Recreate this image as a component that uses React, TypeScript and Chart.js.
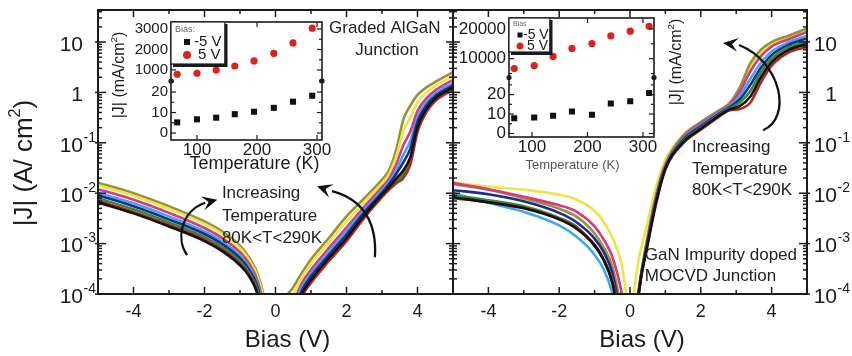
import React, { useEffect, useRef } from 'react';
import { Chart, registerables } from 'chart.js';

Chart.register(...registerables);

const FONT = '"Liberation Sans", Arial, Helvetica, sans-serif';
const INK = '#1b1b1b';
const font = (s: number) => `${s}px ${FONT}`;

// ---------------- main panels ----------------
// bias grids (V)
const biasLeft = [-5, -4, -3, -2, -1.5, -1, -0.75, -0.5, -0.25, 0, 0.25, 0.5, 0.75, 1, 1.5, 2, 2.5, 3, 3.2, 3.4, 3.6, 3.8, 4, 4.25, 4.5, 5];
const biasRight = [-5, -4, -3, -2, -1.5, -1, -0.75, -0.5, -0.25, 0, 0.25, 0.5, 0.75, 1, 1.5, 2, 2.5, 2.8, 3.1, 3.4, 3.7, 4, 4.5, 5];

// log10 |J| (A/cm^2) — graded AlGaN junction (left panel)
const leftBlackLog = [-2.18, -2.40, -2.66, -2.95, -3.15, -3.43, -3.64, -4.02, -5.0, -6.5, -5.1, -4.51, -3.99, -3.72, -3.29, -2.89, -2.44, -2.03, -1.88, -1.71, -1.55, -1.28, -0.69, -0.33, -0.12, 0.10];
const leftRedLog = [-2.15, -2.37, -2.63, -2.92, -3.12, -3.40, -3.61, -3.99, -4.94, -6.42, -5.3, -4.6, -4.05, -3.78, -3.35, -2.95, -2.49, -2.08, -1.93, -1.80, -1.70, -1.43, -0.78, -0.39, -0.17, 0.05];
const leftGreenLog = [-2.10, -2.32, -2.58, -2.87, -3.07, -3.35, -3.57, -3.94, -4.86, -6.3, -5.2, -4.56, -4.02, -3.75, -3.32, -2.92, -2.47, -2.06, -1.91, -1.76, -1.63, -1.36, -0.74, -0.36, -0.15, 0.07];
const leftNavyLog = [-2.04, -2.26, -2.52, -2.81, -3.01, -3.29, -3.51, -3.87, -4.75, -6.14, -5.0, -4.40, -3.92, -3.65, -3.23, -2.82, -2.38, -1.99, -1.82, -1.62, -1.39, -1.11, -0.58, -0.26, -0.07, 0.14];
const leftLightBlueLog = [-1.99, -2.20, -2.46, -2.76, -2.96, -3.24, -3.46, -3.82, -4.66, -6.01, -4.9, -4.31, -3.86, -3.59, -3.17, -2.75, -2.33, -1.94, -1.77, -1.54, -1.24, -0.96, -0.49, -0.19, -0.02, 0.19];
const leftMagentaLog = [-1.92, -2.13, -2.39, -2.69, -2.89, -3.17, -3.39, -3.75, -4.53, -5.83, -4.7, -4.19, -3.78, -3.52, -3.09, -2.68, -2.27, -1.88, -1.71, -1.43, -1.05, -0.77, -0.37, -0.12, 0.04, 0.25];
const leftYellowLog = [-1.84, -2.05, -2.31, -2.61, -2.81, -3.09, -3.32, -3.66, -4.39, -5.63, -4.45, -4.02, -3.67, -3.40, -2.98, -2.56, -2.18, -1.80, -1.62, -1.27, -0.77, -0.49, -0.20, 0.00, 0.13, 0.33];
const leftOliveLog = [-1.79, -2.00, -2.26, -2.56, -2.76, -3.04, -3.27, -3.61, -4.3, -5.5, -4.2, -3.87, -3.57, -3.31, -2.89, -2.46, -2.10, -1.73, -1.54, -1.14, -0.54, -0.26, -0.05, 0.10, 0.21, 0.40];

// log10 |J| (A/cm^2) — GaN impurity doped MOCVD junction (right panel)
const rightBlackLog = [-2.08, -2.18, -2.30, -2.52, -2.71, -3.04, -3.32, -3.78, -4.7, -6.0, -3.97, -3.00, -2.14, -1.51, -0.99, -0.72, -0.47, -0.34, -0.27, -0.08, 0.30, 0.60, 0.85, 0.96];
const rightRedLog = [-2.10, -2.18, -2.29, -2.51, -2.69, -3.02, -3.30, -3.75, -4.6, -6.0, -3.98, -3.02, -2.17, -1.53, -1.01, -0.74, -0.49, -0.36, -0.33, -0.20, 0.20, 0.53, 0.80, 0.90];
const rightGreenLog = [-2.04, -2.14, -2.26, -2.49, -2.67, -3.04, -3.30, -3.72, -4.6, -6.0, -3.96, -2.97, -2.12, -1.50, -0.97, -0.70, -0.45, -0.32, -0.20, 0.03, 0.40, 0.67, 0.90, 1.01];
const rightNavyLog = [-1.94, -2.02, -2.16, -2.39, -2.58, -2.90, -3.16, -3.58, -4.5, -5.8, -3.94, -2.94, -2.09, -1.48, -0.94, -0.67, -0.43, -0.30, -0.14, 0.15, 0.49, 0.74, 0.95, 1.07];
const rightLightBlueLog = [-2.00, -2.19, -2.37, -2.64, -2.87, -3.22, -3.50, -3.97, -4.8, -6.0, -3.93, -2.92, -2.07, -1.46, -0.92, -0.65, -0.41, -0.28, -0.07, 0.27, 0.59, 0.81, 1.00, 1.12];
const rightMagentaLog = [-1.80, -1.92, -2.07, -2.24, -2.37, -2.66, -2.91, -3.26, -3.93, -5.0, -3.92, -2.88, -2.03, -1.44, -0.89, -0.62, -0.39, -0.25, 0.01, 0.42, 0.72, 0.91, 1.06, 1.20];
const rightYellowLog = [-1.79, -1.87, -1.93, -2.03, -2.13, -2.35, -2.56, -2.88, -3.37, -4.3, -3.3, -2.57, -1.84, -1.33, -0.85, -0.60, -0.37, -0.22, 0.05, 0.50, 0.78, 0.95, 1.09, 1.24];
const rightOliveLog = [-1.82, -1.93, -2.10, -2.31, -2.47, -2.80, -3.07, -3.45, -4.3, -5.5, -3.9, -2.85, -2.0, -1.42, -0.86, -0.59, -0.36, -0.22, 0.10, 0.58, 0.85, 1.00, 1.13, 1.27];

// axis ticks
const biasTicks = [-4, -2, 0, 2, 4];
const biasMinorTicks = [-3, -1, 1, 3];
const jDecades = [-4, -3, -2, -1, 0, 1];
const jMin = 1e-4;
const jMax = 43.2;

const curveColors = {
  black: '#121212',
  red: '#b5261f',
  green: '#2f8d3b',
  navy: '#1d2b8c',
  lightBlue: '#3fa7ee',
  magenta: '#d8397f',
  yellow: '#ece545',
  olive: '#97923a',
};

// ---------------- insets ----------------
const leftInsetTemps = [67, 100, 132, 163, 195, 228, 260, 292];
const leftInsetNeg5V = [5.2, 6.7, 7.5, 9.2, 10.4, 12.3, 15.3, 18.2]; // mA/cm^2
const leftInsetPos5V = [790, 840, 1000, 1195, 1440, 1810, 2320, 3040]; // mA/cm^2
const rightInsetTemps = [68, 104, 138, 172, 208, 242, 277, 311];
const rightInsetNeg5V = [7.8, 8.2, 9.1, 11.3, 9.6, 15.4, 16.6, 20.8];
const rightInsetPos5V = [6670, 7670, 10770, 13430, 15100, 17670, 19230, 20900];

const insetTempTicks = [100, 200, 300];
const leftInsetLowTicks = [0, 10, 20];
const leftInsetHighTicks = [1000, 2000, 3000];
const rightInsetLowTicks = [0, 10, 20];
const rightInsetHighTicks = [10000, 20000];

type Pt = [number, number];
type Seg = { t: string; sup?: boolean };

function drawRich(ctx: CanvasRenderingContext2D, segs: Seg[], x: number, y: number, size: number, rotate: boolean, color: string) {
  ctx.save();
  ctx.translate(x, y);
  if (rotate) ctx.rotate(-Math.PI / 2);
  const sup = size * 0.62;
  let w = 0;
  for (const s of segs) {
    ctx.font = font(s.sup ? sup : size);
    w += ctx.measureText(s.t).width;
  }
  let cx = -w / 2;
  ctx.fillStyle = color;
  ctx.textAlign = 'left';
  ctx.textBaseline = 'middle';
  for (const s of segs) {
    ctx.font = font(s.sup ? sup : size);
    ctx.fillText(s.t, cx, s.sup ? -size * 0.36 : 0);
    cx += ctx.measureText(s.t).width;
  }
  ctx.restore();
}

function drawExp(ctx: CanvasRenderingContext2D, e: number, xr: number, y: number) {
  ctx.fillStyle = INK;
  ctx.textBaseline = 'middle';
  ctx.textAlign = 'right';
  ctx.font = font(21);
  ctx.fillText(e === 0 ? '1' : '10', xr, y);
  if (e < 0) {
    ctx.textAlign = 'left';
    ctx.font = font(14);
    ctx.fillText(String(e), xr + 0.5, y - 8);
  }
}

interface MainCfg {
  side: 'left' | 'right';
  bias: number[];
  curves: { name: string; color: string; logJ: number[] }[];
  padding: { left: number; right: number; top: number; bottom: number };
  texts: { text: string; at: Pt; align: CanvasTextAlign }[];
  arrows: Pt[][];
}

function mainPlugin(cfg: MainCfg) {
  return {
    id: 'mainDecor',
    afterDatasetsDraw(chart: any) {
      const ctx: CanvasRenderingContext2D = chart.ctx;
      const a = chart.chartArea;
      const xs = chart.scales.x;
      const ys = chart.scales.y;
      const P = (p: Pt) => [xs.getPixelForValue(p[0]), ys.getPixelForValue(Math.pow(10, p[1]))];
      const seg = (x1: number, y1: number, x2: number, y2: number) => {
        ctx.beginPath();
        ctx.moveTo(x1, y1);
        ctx.lineTo(x2, y2);
        ctx.stroke();
      };
      ctx.save();
      // annotation texts
      ctx.fillStyle = '#222';
      ctx.font = font(17);
      ctx.textBaseline = 'middle';
      for (const t of cfg.texts) {
        const [x, y] = P(t.at);
        ctx.textAlign = t.align;
        ctx.fillText(t.text, x, y);
      }
      // curved arrows
      ctx.strokeStyle = '#111';
      ctx.fillStyle = '#111';
      ctx.lineWidth = 2.3;
      for (const arr of cfg.arrows) {
        const [p0, c1, c2, p1, tip] = arr.map(P);
        ctx.beginPath();
        ctx.moveTo(p0[0], p0[1]);
        ctx.bezierCurveTo(c1[0], c1[1], c2[0], c2[1], p1[0], p1[1]);
        ctx.stroke();
        const ang = Math.atan2(tip[1] - p1[1], tip[0] - p1[0]);
        const back = 15;
        const half = 7;
        const bx = tip[0] - back * Math.cos(ang);
        const by = tip[1] - back * Math.sin(ang);
        const nx = tip[0] - back * 0.6 * Math.cos(ang);
        const ny = tip[1] - back * 0.6 * Math.sin(ang);
        ctx.beginPath();
        ctx.moveTo(tip[0], tip[1]);
        ctx.lineTo(bx + half * Math.sin(ang), by - half * Math.cos(ang));
        ctx.lineTo(nx, ny);
        ctx.lineTo(bx - half * Math.sin(ang), by + half * Math.cos(ang));
        ctx.closePath();
        ctx.fill();
      }
      // frame
      ctx.strokeStyle = INK;
      ctx.lineWidth = 2;
      ctx.beginPath();
      ctx.moveTo(a.right + 1, a.top);
      ctx.lineTo(a.left, a.top);
      ctx.lineTo(a.left, a.bottom);
      ctx.lineTo(a.right + 1, a.bottom);
      if (cfg.side === 'right') {
        ctx.moveTo(a.right, a.top - 1);
        ctx.lineTo(a.right, a.bottom + 1);
      }
      ctx.stroke();
      // x ticks
      ctx.lineWidth = 1.5;
      for (const v of biasTicks) {
        const px = xs.getPixelForValue(v);
        seg(px, a.bottom, px, a.bottom - 7);
        seg(px, a.top, px, a.top + 7);
      }
      for (const v of biasMinorTicks) {
        const px = xs.getPixelForValue(v);
        seg(px, a.bottom, px, a.bottom - 4);
        seg(px, a.top, px, a.top + 4);
      }
      // x labels + title
      ctx.fillStyle = INK;
      ctx.font = font(18);
      ctx.textAlign = 'center';
      ctx.textBaseline = 'middle';
      for (const v of biasTicks) ctx.fillText(String(v), xs.getPixelForValue(v), a.bottom + 18);
      ctx.font = font(24);
      ctx.fillText('Bias (V)', (a.left + a.right) / 2 + 12, 340);
      // y ticks
      for (const e of jDecades) {
        for (let k = 1; k <= 9; k++) {
          const v = k * Math.pow(10, e);
          if (v > jMax) break;
          const py = ys.getPixelForValue(v);
          const major = k === 1;
          if (cfg.side === 'left') {
            if (major) seg(a.left - 3, py, a.left + 8, py);
            else seg(a.left, py, a.left + 4, py);
          } else {
            if (major) {
              seg(a.left - 7, py, a.left + 7, py);
              seg(a.right - 8, py, a.right + 3, py);
            } else {
              seg(a.left - 4, py, a.left + 4, py);
              seg(a.right - 4, py, a.right, py);
            }
          }
        }
      }
      // y labels
      for (const e of jDecades) {
        const py = ys.getPixelForValue(Math.pow(10, e)) + 3;
        if (cfg.side === 'left') drawExp(ctx, e, a.left - 15, py);
        else drawExp(ctx, e, a.right + 30, py);
      }
      if (cfg.side === 'left') {
        drawRich(ctx, [{ t: '|J| (A/ cm' }, { t: '2', sup: true }, { t: ')' }], 25, 163, 26, true, INK);
      }
      ctx.restore();
    },
  };
}

function makeMain(canvas: HTMLCanvasElement, cfg: MainCfg) {
  const datasets = cfg.curves.map((c) => ({
    label: c.name,
    data: cfg.bias.map((v, i) => ({ x: v, y: Math.pow(10, c.logJ[i]) })),
    borderColor: c.color,
    backgroundColor: c.color,
    borderWidth: 2.6,
    pointRadius: 0,
    fill: false,
    cubicInterpolationMode: 'monotone',
    clip: 0,
  }));
  return new Chart(canvas, {
    type: 'line',
    data: { datasets } as any,
    options: {
      animation: false,
      responsive: false,
      devicePixelRatio: 1,
      events: [],
      layout: { padding: cfg.padding },
      elements: { line: { capBezierPoints: false } },
      plugins: { legend: { display: false }, tooltip: { enabled: false } },
      scales: {
        x: { type: 'linear', min: -5, max: 5, display: false },
        y: { type: 'logarithmic', min: jMin, max: jMax, display: false },
      },
    } as any,
    plugins: [mainPlugin(cfg)],
  });
}

interface InsetCfg {
  temps: number[];
  neg: number[];
  pos: number[];
  xRange: [number, number];
  lowRange: [number, number];
  highRange: [number, number];
  lowTicks: number[];
  highTicks: number[];
  padding: { left: number; right: number; top: number; bottom: number };
  yLabelSize: number;
  xLabelSize: number;
  titleSize: number;
  titleColor: string;
  titleDx: number;
  titleDy: number;
  yTitlePos: [number, number];
  legend: { w: number; h: number; bias: string; biasSize: number; textSize: number; mx: number; r1: number; r2: number; tx1: number; tx2: number; sq: number; cr: number };
}

function insetPlugin(c: InsetCfg) {
  return {
    id: 'insetDecor',
    beforeDatasetsDraw(chart: any) {
      const { ctx, chartArea: a } = chart;
      ctx.save();
      ctx.fillStyle = '#ffffff';
      ctx.fillRect(a.left, a.top, a.right - a.left, a.bottom - a.top);
      ctx.restore();
    },
    afterDatasetsDraw(chart: any) {
      const ctx: CanvasRenderingContext2D = chart.ctx;
      const a = chart.chartArea;
      const xs = chart.scales.x;
      const yl = chart.scales.yLow;
      const yh = chart.scales.yHigh;
      const seg = (x1: number, y1: number, x2: number, y2: number) => {
        ctx.beginPath();
        ctx.moveTo(x1, y1);
        ctx.lineTo(x2, y2);
        ctx.stroke();
      };
      ctx.save();
      ctx.strokeStyle = INK;
      ctx.lineWidth = 1.6;
      ctx.strokeRect(a.left, a.top, a.right - a.left, a.bottom - a.top);
      ctx.lineWidth = 1.2;
      // x ticks
      for (const v of insetTempTicks) {
        const px = xs.getPixelForValue(v);
        seg(px, a.bottom, px, a.bottom - 5);
        seg(px, a.top, px, a.top + 5);
      }
      // y ticks (major + midpoints)
      const ySets: [any, number[]][] = [[yl, c.lowTicks], [yh, c.highTicks]];
      for (const [sc, ticks] of ySets) {
        const step = ticks[1] - ticks[0];
        const minors: number[] = [];
        for (let v = ticks[0] - step / 2; v <= sc.max; v += step / 2) minors.push(v);
        for (const v of minors) {
          if (v < sc.min || v > sc.max) continue;
          const py = sc.getPixelForValue(v);
          const major = ticks.includes(v);
          const len = major ? 5 : 3;
          seg(a.left, py, a.left + len, py);
          seg(a.right, py, a.right - len, py);
        }
      }
      // break dots
      const yb = yh.bottom;
      ctx.fillStyle = INK;
      for (const x of [a.left, a.right]) {
        ctx.beginPath();
        ctx.arc(x, yb, 2.6, 0, Math.PI * 2);
        ctx.fill();
      }
      // tick labels
      ctx.fillStyle = INK;
      ctx.textBaseline = 'middle';
      ctx.textAlign = 'right';
      ctx.font = font(c.yLabelSize);
      for (const v of c.lowTicks) ctx.fillText(String(v), a.left - 3, yl.getPixelForValue(v));
      for (const v of c.highTicks) ctx.fillText(String(v), a.left - 3, yh.getPixelForValue(v));
      ctx.textAlign = 'center';
      ctx.font = font(c.xLabelSize);
      for (const v of insetTempTicks) ctx.fillText(String(v), xs.getPixelForValue(v), a.bottom + 10);
      // titles
      ctx.fillStyle = c.titleColor;
      ctx.font = font(c.titleSize);
      ctx.fillText('Temperature (K)', (a.left + a.right) / 2 + c.titleDx, a.bottom + c.titleDy);
      drawRich(ctx, [{ t: '|J| (mA/cm' }, { t: '2', sup: true }, { t: ')' }], c.yTitlePos[0], c.yTitlePos[1], 16, true, INK);
      // legend
      const L = c.legend;
      const lx = a.left;
      const ly = a.top;
      ctx.fillStyle = '#fff';
      ctx.fillRect(lx, ly, L.w, L.h);
      ctx.strokeStyle = INK;
      ctx.lineWidth = 1.2;
      ctx.strokeRect(lx, ly, L.w, L.h);
      ctx.lineWidth = 3;
      ctx.beginPath();
      ctx.moveTo(lx + L.w + 1, ly + 2);
      ctx.lineTo(lx + L.w + 1, ly + L.h + 1.5);
      ctx.lineTo(lx + 2, ly + L.h + 1.5);
      ctx.stroke();
      ctx.fillStyle = '#666';
      ctx.font = font(L.biasSize);
      ctx.textAlign = 'left';
      ctx.fillText(L.bias, lx + 4, ly + L.biasSize * 0.8);
      ctx.fillStyle = '#111';
      ctx.fillRect(lx + L.mx - L.sq / 2, ly + L.r1 - L.sq / 2, L.sq, L.sq);
      ctx.fillStyle = '#e0201c';
      ctx.beginPath();
      ctx.arc(lx + L.mx, ly + L.r2, L.cr, 0, Math.PI * 2);
      ctx.fill();
      ctx.fillStyle = INK;
      ctx.font = font(L.textSize);
      ctx.fillText('-5 V', lx + L.tx1, ly + L.r1);
      ctx.fillText('5 V', lx + L.tx2, ly + L.r2);
      ctx.restore();
    },
  };
}

function makeInset(canvas: HTMLCanvasElement, c: InsetCfg) {
  return new Chart(canvas, {
    type: 'scatter',
    data: {
      datasets: [
        {
          label: '-5 V',
          data: c.temps.map((t, i) => ({ x: t, y: c.neg[i] })),
          yAxisID: 'yLow',
          pointStyle: 'rect',
          pointRadius: 4.3,
          backgroundColor: '#111',
          borderColor: '#111',
          borderWidth: 0,
        },
        {
          label: '5 V',
          data: c.temps.map((t, i) => ({ x: t, y: c.pos[i] })),
          yAxisID: 'yHigh',
          pointStyle: 'circle',
          pointRadius: 3.6,
          backgroundColor: '#e0201c',
          borderColor: '#e0201c',
          borderWidth: 0,
        },
      ],
    } as any,
    options: {
      animation: false,
      responsive: false,
      devicePixelRatio: 1,
      events: [],
      layout: { padding: c.padding },
      plugins: { legend: { display: false }, tooltip: { enabled: false } },
      scales: {
        x: { type: 'linear', min: c.xRange[0], max: c.xRange[1], display: false },
        yLow: { type: 'linear', position: 'left', stack: 'j', stackWeight: 1, weight: 1, min: c.lowRange[0], max: c.lowRange[1], display: false },
        yHigh: { type: 'linear', position: 'left', stack: 'j', stackWeight: 1, weight: 2, min: c.highRange[0], max: c.highRange[1], display: false },
      },
    } as any,
    plugins: [insetPlugin(c)],
  });
}

const leftCfg: MainCfg = {
  side: 'left',
  bias: biasLeft,
  curves: [
    { name: '80 K', color: curveColors.black, logJ: leftBlackLog },
    { name: '110 K', color: curveColors.red, logJ: leftRedLog },
    { name: '140 K', color: curveColors.green, logJ: leftGreenLog },
    { name: '170 K', color: curveColors.navy, logJ: leftNavyLog },
    { name: '200 K', color: curveColors.lightBlue, logJ: leftLightBlueLog },
    { name: '230 K', color: curveColors.magenta, logJ: leftMagentaLog },
    { name: '260 K', color: curveColors.yellow, logJ: leftYellowLog },
    { name: '290 K', color: curveColors.olive, logJ: leftOliveLog },
  ],
  padding: { left: 98, right: 0, top: 10, bottom: 62 },
  texts: [
    { text: 'Graded AlGaN', at: [3.08, 1.28], align: 'center' },
    { text: 'Junction', at: [3.14, 0.84], align: 'center' },
    { text: 'Increasing', at: [-1.51, -2.0], align: 'left' },
    { text: 'Temperature', at: [-1.51, -2.45], align: 'left' },
    { text: '80K<T<290K', at: [-1.51, -2.89], align: 'left' },
  ],
  arrows: [
    [[-2.49, -3.23], [-2.8, -2.93], [-2.69, -2.37], [-1.98, -2.19], [-1.64, -2.13]],
    [[2.8, -3.27], [2.86, -2.63], [2.52, -2.13], [1.59, -1.96], [1.17, -1.86]],
  ],
};

const rightCfg: MainCfg = {
  side: 'right',
  bias: biasRight,
  curves: [
    { name: '80 K', color: curveColors.black, logJ: rightBlackLog },
    { name: '110 K', color: curveColors.red, logJ: rightRedLog },
    { name: '140 K', color: curveColors.green, logJ: rightGreenLog },
    { name: '170 K', color: curveColors.navy, logJ: rightNavyLog },
    { name: '200 K', color: curveColors.lightBlue, logJ: rightLightBlueLog },
    { name: '230 K', color: curveColors.magenta, logJ: rightMagentaLog },
    { name: '260 K', color: curveColors.olive, logJ: rightOliveLog },
    { name: '290 K', color: curveColors.yellow, logJ: rightYellowLog },
  ],
  padding: { left: 13, right: 45, top: 10, bottom: 62 },
  texts: [
    { text: 'Increasing', at: [1.75, -1.08], align: 'left' },
    { text: 'Temperature', at: [1.75, -1.52], align: 'left' },
    { text: '80K<T<290K', at: [1.75, -1.94], align: 'left' },
    { text: 'GaN Impurity doped', at: [0.42, -3.23], align: 'left' },
    { text: 'MOCVD Junction', at: [0.42, -3.64], align: 'left' },
  ],
  arrows: [[[3.76, -0.75], [4.58, -0.51], [4.29, 0.6], [3.08, 0.94], [2.63, 0.98]]],
};

const leftInsetCfg: InsetCfg = {
  temps: leftInsetTemps,
  neg: leftInsetNeg5V,
  pos: leftInsetPos5V,
  xRange: [56.7, 308.3],
  lowRange: [-3.4, 25.4],
  highRange: [463, 3340],
  lowTicks: leftInsetLowTicks,
  highTicks: leftInsetHighTicks,
  padding: { left: 71, right: 13, top: 14, bottom: 35 },
  yLabelSize: 15,
  xLabelSize: 17,
  titleSize: 18,
  titleColor: INK,
  titleDx: 8,
  titleDy: 24,
  yTitlePos: [20, 67],
  legend: { w: 54, h: 42, bias: 'Bias:', biasSize: 9, textSize: 15, mx: 16, r1: 20, r2: 33, tx1: 23, tx2: 27, sq: 6, cr: 4 },
};

const rightInsetCfg: InsetCfg = {
  temps: rightInsetTemps,
  neg: rightInsetNeg5V,
  pos: rightInsetPos5V,
  xRange: [58.6, 319.8],
  lowRange: [-1.8, 28.8],
  highRange: [3670, 23670],
  lowTicks: rightInsetLowTicks,
  highTicks: rightInsetHighTicks,
  padding: { left: 59, right: 36, top: 10, bottom: 38 },
  yLabelSize: 17,
  xLabelSize: 17,
  titleSize: 13,
  titleColor: '#555',
  titleDx: -9,
  titleDy: 28,
  yTitlePos: [227, 54],
  legend: { w: 41, h: 34, bias: 'Bias', biasSize: 7, textSize: 14, mx: 11, r1: 17, r2: 28, tx1: 14, tx2: 18, sq: 5, cr: 3.5 },
};

export default function App() {
  const leftRef = useRef<HTMLCanvasElement>(null);
  const rightRef = useRef<HTMLCanvasElement>(null);
  const lInRef = useRef<HTMLCanvasElement>(null);
  const rInRef = useRef<HTMLCanvasElement>(null);

  useEffect(() => {
    const charts = [
      makeMain(leftRef.current!, leftCfg),
      makeMain(rightRef.current!, rightCfg),
      makeInset(lInRef.current!, leftInsetCfg),
      makeInset(rInRef.current!, rightInsetCfg),
    ];
    return () => charts.forEach((c) => c.destroy());
  }, []);

  const abs = (l: number, t: number, w: number, h: number): React.CSSProperties => ({
    position: 'absolute', left: l, top: t, width: w, height: h,
  });

  return (
    <div style={{ position: 'fixed', left: 0, top: 0, width: 852, height: 356, background: '#fff', overflow: 'hidden' }}>
      <canvas ref={leftRef} width={453} height={356} style={abs(0, 0, 453, 356)} />
      <canvas ref={rightRef} width={412} height={356} style={abs(440, 0, 412, 356)} />
      <canvas ref={lInRef} width={235} height={167} style={abs(100, 8, 235, 167)} />
      <canvas ref={rInRef} width={240} height={167} style={abs(450, 8, 240, 167)} />
    </div>
  );
}
